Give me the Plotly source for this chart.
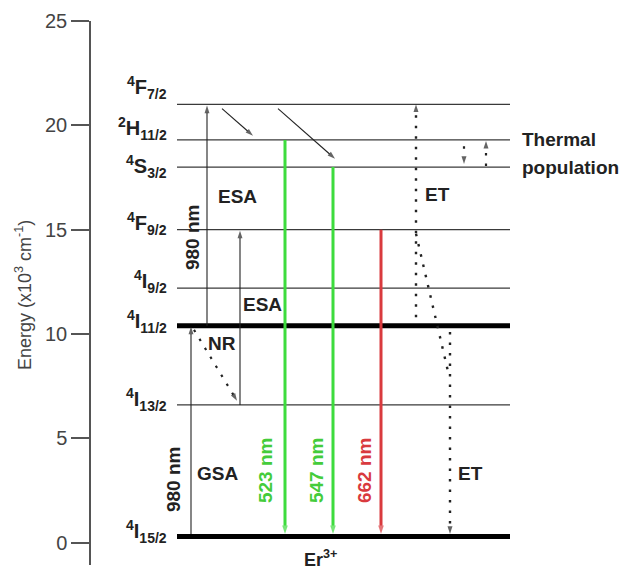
import plotly.graph_objects as go

# ---- Er3+ energy levels (x10^3 cm^-1) ----
level_keys = ["4F7/2", "2H11/2", "4S3/2", "4F9/2", "4I9/2", "4I11/2", "4I13/2", "4I15/2"]
level_energy = [21.0, 19.3, 18.0, 15.0, 12.2, 10.4, 6.6, 0.3]

# ---- radiative emissions to the ground state ----
emission_nm = [523, 547, 662]
emission_upper = ["2H11/2", "4S3/2", "4F9/2"]

# ---- 980 nm absorption steps ----
pump_nm = 980
absorption_kind = ["GSA", "ESA", "ESA"]
absorption_lower = ["4I15/2", "4I11/2", "4I13/2"]
absorption_upper = ["4I11/2", "4F7/2", "4F9/2"]

# ---- non-radiative relaxation from 4F7/2 (start, end energies) ----
relax_start = [20.8, 20.8]
relax_end = [19.5, 18.4]

# ---- 4I11/2 -> 4I13/2 non-radiative decay ----
nr_start, nr_end = 10.2, 6.8

# ---- energy-transfer paths ----
et_up = [10.8, 21.0]
et_cross = [14.8, 8.0]
et_down = [10.1, 0.3]

# ---- thermal population between 2H11/2 and 4S3/2 ----
thermal_down = [19.0, 18.15]
thermal_up = [18.05, 19.25]

tick_values = [0, 5, 10, 15, 20, 25]

E = dict(zip(level_keys, level_energy))

FONT = "Arial, Liberation Sans, sans-serif"
GREEN = "#3ddc3d"
GREEN_TXT = "#44cc3a"
RED = "#d93a3e"
DARK = "#222222"

# plot area: x data units equal pixels; y scale ~20.87 px per 10^3 cm^-1
Y0_PX, PX_PER_UNIT = 542.7, 20.87
L_MARGIN, PLOT_W = 91, 528


def ypx(p):
    """Convert a vertical pixel offset of the page into energy units."""
    return (Y0_PX - p) / PX_PER_UNIT


def level_html(key):
    mult, rest = key[0], key[1:]
    term, j = rest[0], rest[1:]
    return f"<sup>{mult}</sup>{term}<sub>{j}</sub>"


fig = go.Figure()

# level lines
thick = {"4I11/2", "4I15/2"}
for k, e in zip(level_keys, level_energy):
    fig.add_trace(go.Scatter(
        x=[177, 510], y=[e, e], mode="lines",
        line=dict(color="#000000" if k in thick else "#3a3a3a", width=5 if k in thick else 1.3),
        hoverinfo="skip", showlegend=False))


def arrow(x0, y0, x1, y1, color=DARK, width=1.2, dash=None, head=7):
    fig.add_trace(go.Scatter(
        x=[x0, x1], y=[y0, y1], mode="lines+markers" if head else "lines",
        line=dict(color=color, width=width, dash=dash),
        marker=dict(symbol="arrow", size=[0, head], angleref="previous",
                    color=color, line=dict(width=0)),
        hoverinfo="skip", showlegend=False))


GROUND_TOP = 2.5 / PX_PER_UNIT  # half of the thick ground line
DOT = "2.5px,8px"

# absorption arrows (GSA, two ESA)
abs_x = [191, 207, 240]
for x, lo, up in zip(abs_x, absorption_lower, absorption_upper):
    y0 = E[lo] + (GROUND_TOP if lo == "4I15/2" else 0)
    arrow(x, y0, x, E[up] - 0.05, width=1.1, head=8)

# relaxation arrows 4F7/2 -> 2H11/2 / 4S3/2
for (xa, xb), s, t in zip([(222, 253), (278, 335)], relax_start, relax_end):
    arrow(xa, s, xb, t, width=1.1, head=8)

# NR decay (dotted)
arrow(194, nr_start, 237, nr_end, width=2.2, dash=DOT, head=8)

# emissions
em_x = [285, 333, 381]
em_col = [GREEN, GREEN, RED]
for x, up, c in zip(em_x, emission_upper, em_col):
    arrow(x, E[up], x, E["4I15/2"] + GROUND_TOP, color=c, width=3, head=9)

# energy transfer paths (dotted)
arrow(416, et_up[0], 416, et_up[1], width=2.4, dash=DOT, head=8)
arrow(416, et_cross[0], 449, et_cross[1], width=2.4, dash=DOT, head=0)
arrow(450, et_down[0], 450, et_down[1] + GROUND_TOP, width=2.4, dash=DOT, head=8)

# thermal population arrows
arrow(464, thermal_down[0], 464, thermal_down[1], width=2.2, dash=DOT, head=8)
arrow(486, thermal_up[0], 486, thermal_up[1], width=2.2, dash=DOT, head=8)

annotations = []


def text(x, y, s, size=19, color=DARK, angle=0, xanchor="center", bold=True, yshift=0):
    annotations.append(dict(
        x=x, y=y, xref="x", yref="y", text=f"<b>{s}</b>" if bold else s,
        showarrow=False, textangle=angle, xanchor=xanchor, yanchor="middle",
        yshift=yshift, font=dict(family=FONT, size=size, color=color)))


# level labels
label_shift = [17, 11, 1, 6, 7, 4, 5, 5]
for k, e, sh in zip(level_keys, level_energy, label_shift):
    text(169, e, level_html(k), size=20, xanchor="right", yshift=sh)

# process labels
text(173, ypx(480), f"{pump_nm} nm", angle=-90)
text(192, ypx(238), f"{pump_nm} nm", angle=-90)
text(217, ypx(473), absorption_kind[0])
text(237, ypx(196), absorption_kind[1])
text(262, ypx(304), absorption_kind[2])
text(222, ypx(343), "NR")
text(437, ypx(194), "ET")
text(470, ypx(473), "ET")
for x, nm, c in zip([265, 316, 364], emission_nm, [GREEN_TXT, GREEN_TXT, RED]):
    text(x, ypx(471), f"{nm} nm", color=c, angle=-90)
text(520, E["2H11/2"], "Thermal", xanchor="left")
text(520, E["4S3/2"], "population", xanchor="left")
text(320, ypx(558), "Er<sup>3+</sup>", size=18)

# y-axis title (paper x so it sits left of the plot area)
annotations.append(dict(
    x=(23 - L_MARGIN) / PLOT_W, y=ypx(295), xref="paper", yref="y", showarrow=False,
    xanchor="center", yanchor="middle",
    textangle=-90, text="Energy (x10<sup>3</sup> cm<sup>-1</sup>)",
    font=dict(family=FONT, size=18, color="#444444")))

fig.update_layout(
    width=619, height=572,
    margin=dict(l=L_MARGIN, r=0, t=21, b=7),
    paper_bgcolor="white", plot_bgcolor="white",
    annotations=annotations,
    xaxis=dict(visible=False, range=[L_MARGIN, L_MARGIN + PLOT_W], fixedrange=True),
    yaxis=dict(
        range=[ypx(565), 25], tickvals=tick_values,
        showgrid=False, zeroline=False, showline=True,
        linecolor="#555555", linewidth=1.5,
        ticks="outside", ticklen=18, tickwidth=1.5, tickcolor="#555555",
        tickfont=dict(family=FONT, size=20, color="#444444")),
)

fig.write_html("out.html")
